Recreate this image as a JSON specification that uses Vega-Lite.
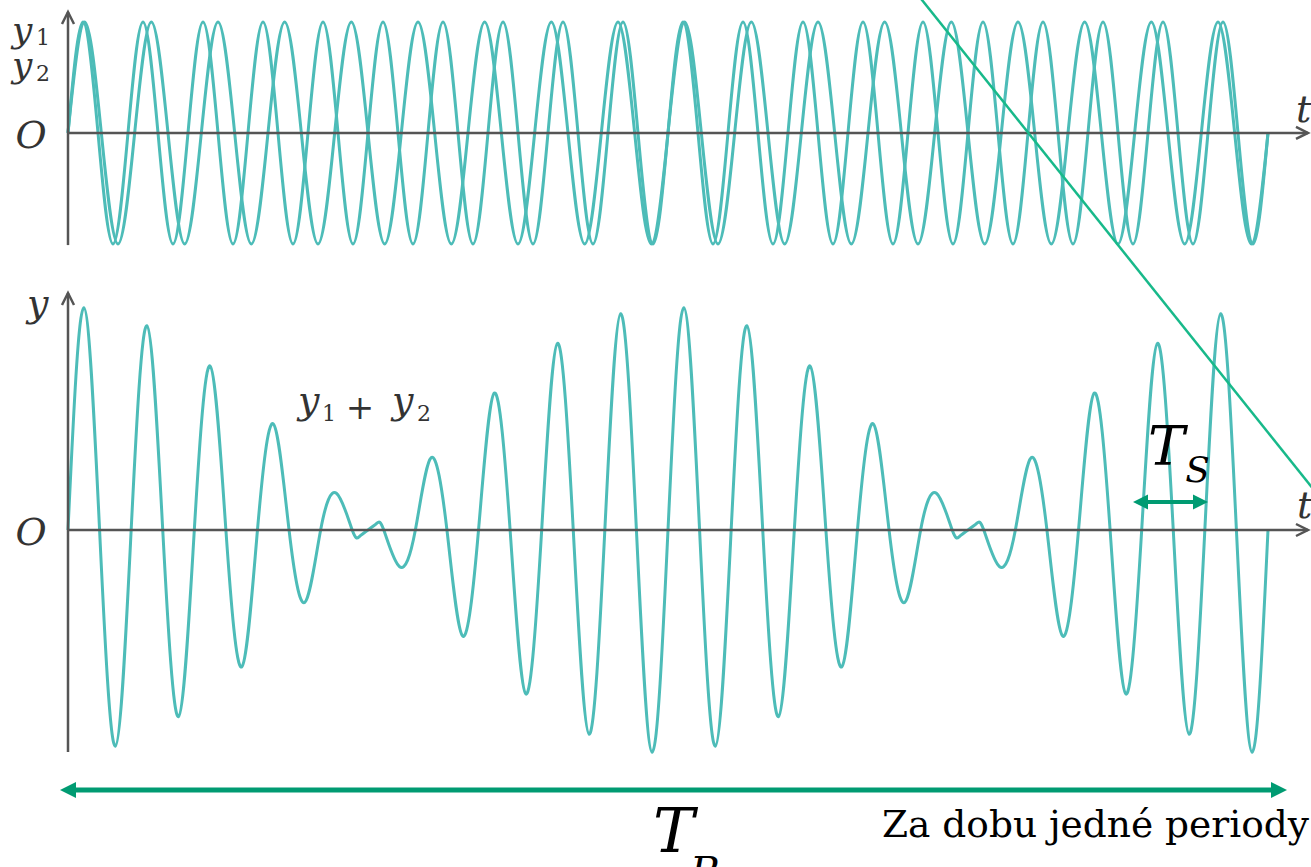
{
  "$schema": "https://vega.github.io/schema/vega-lite/v6.json",
  "width": 1311,
  "height": 867,
  "padding": 0,
  "autosize": {"type": "none"},
  "background": "white",
  "config": {"view": {"stroke": null}, "text": {"font": "DejaVu Serif"}},
  "data": {"values": [{}]},
  "datasets": {
    "waves": [
      {"s": "y1", "t": 0, "v": 0}, {"s": "y1", "t": 2.5, "v": 1}, {"s": "y1", "t": 5, "v": 0}, {"s": "y1", "t": 7.5, "v": -1},
      {"s": "y1", "t": 10, "v": 0}, {"s": "y1", "t": 12.5, "v": 1}, {"s": "y1", "t": 15, "v": 0}, {"s": "y1", "t": 17.5, "v": -1},
      {"s": "y1", "t": 20, "v": 0}, {"s": "y1", "t": 22.5, "v": 1}, {"s": "y1", "t": 25, "v": 0}, {"s": "y1", "t": 27.5, "v": -1},
      {"s": "y1", "t": 30, "v": 0}, {"s": "y1", "t": 32.5, "v": 1}, {"s": "y1", "t": 35, "v": 0}, {"s": "y1", "t": 37.5, "v": -1},
      {"s": "y1", "t": 40, "v": 0}, {"s": "y1", "t": 42.5, "v": 1}, {"s": "y1", "t": 45, "v": 0}, {"s": "y1", "t": 47.5, "v": -1},
      {"s": "y1", "t": 50, "v": 0}, {"s": "y1", "t": 52.5, "v": 1}, {"s": "y1", "t": 55, "v": 0}, {"s": "y1", "t": 57.5, "v": -1},
      {"s": "y1", "t": 60, "v": 0}, {"s": "y1", "t": 62.5, "v": 1}, {"s": "y1", "t": 65, "v": 0}, {"s": "y1", "t": 67.5, "v": -1},
      {"s": "y1", "t": 70, "v": 0}, {"s": "y1", "t": 72.5, "v": 1}, {"s": "y1", "t": 75, "v": 0}, {"s": "y1", "t": 77.5, "v": -1},
      {"s": "y1", "t": 80, "v": 0}, {"s": "y1", "t": 82.5, "v": 1}, {"s": "y1", "t": 85, "v": 0}, {"s": "y1", "t": 87.5, "v": -1},
      {"s": "y1", "t": 90, "v": 0}, {"s": "y1", "t": 92.5, "v": 1}, {"s": "y1", "t": 95, "v": 0}, {"s": "y1", "t": 97.5, "v": -1},
      {"s": "y1", "t": 100, "v": 0}, {"s": "y1", "t": 102.5, "v": 1}, {"s": "y1", "t": 105, "v": 0}, {"s": "y1", "t": 107.5, "v": -1},
      {"s": "y1", "t": 110, "v": 0}, {"s": "y1", "t": 112.5, "v": 1}, {"s": "y1", "t": 115, "v": 0}, {"s": "y1", "t": 117.5, "v": -1},
      {"s": "y1", "t": 120, "v": 0}, {"s": "y1", "t": 122.5, "v": 1}, {"s": "y1", "t": 125, "v": 0}, {"s": "y1", "t": 127.5, "v": -1},
      {"s": "y1", "t": 130, "v": 0}, {"s": "y1", "t": 132.5, "v": 1}, {"s": "y1", "t": 135, "v": 0}, {"s": "y1", "t": 137.5, "v": -1},
      {"s": "y1", "t": 140, "v": 0}, {"s": "y1", "t": 142.5, "v": 1}, {"s": "y1", "t": 145, "v": 0}, {"s": "y1", "t": 147.5, "v": -1},
      {"s": "y1", "t": 150, "v": 0}, {"s": "y1", "t": 152.5, "v": 1}, {"s": "y1", "t": 155, "v": 0}, {"s": "y1", "t": 157.5, "v": -1},
      {"s": "y1", "t": 160, "v": 0}, {"s": "y1", "t": 162.5, "v": 1}, {"s": "y1", "t": 165, "v": 0}, {"s": "y1", "t": 167.5, "v": -1},
      {"s": "y1", "t": 170, "v": 0}, {"s": "y1", "t": 172.5, "v": 1}, {"s": "y1", "t": 175, "v": 0}, {"s": "y1", "t": 177.5, "v": -1},
      {"s": "y1", "t": 180, "v": 0},
      {"s": "y2", "t": 0, "v": 0}, {"s": "y2", "t": 2.25, "v": 1}, {"s": "y2", "t": 4.5, "v": 0}, {"s": "y2", "t": 6.75, "v": -1},
      {"s": "y2", "t": 9, "v": 0}, {"s": "y2", "t": 11.25, "v": 1}, {"s": "y2", "t": 13.5, "v": 0}, {"s": "y2", "t": 15.75, "v": -1},
      {"s": "y2", "t": 18, "v": 0}, {"s": "y2", "t": 20.25, "v": 1}, {"s": "y2", "t": 22.5, "v": 0}, {"s": "y2", "t": 24.75, "v": -1},
      {"s": "y2", "t": 27, "v": 0}, {"s": "y2", "t": 29.25, "v": 1}, {"s": "y2", "t": 31.5, "v": 0}, {"s": "y2", "t": 33.75, "v": -1},
      {"s": "y2", "t": 36, "v": 0}, {"s": "y2", "t": 38.25, "v": 1}, {"s": "y2", "t": 40.5, "v": 0}, {"s": "y2", "t": 42.75, "v": -1},
      {"s": "y2", "t": 45, "v": 0}, {"s": "y2", "t": 47.25, "v": 1}, {"s": "y2", "t": 49.5, "v": 0}, {"s": "y2", "t": 51.75, "v": -1},
      {"s": "y2", "t": 54, "v": 0}, {"s": "y2", "t": 56.25, "v": 1}, {"s": "y2", "t": 58.5, "v": 0}, {"s": "y2", "t": 60.75, "v": -1},
      {"s": "y2", "t": 63, "v": 0}, {"s": "y2", "t": 65.25, "v": 1}, {"s": "y2", "t": 67.5, "v": 0}, {"s": "y2", "t": 69.75, "v": -1},
      {"s": "y2", "t": 72, "v": 0}, {"s": "y2", "t": 74.25, "v": 1}, {"s": "y2", "t": 76.5, "v": 0}, {"s": "y2", "t": 78.75, "v": -1},
      {"s": "y2", "t": 81, "v": 0}, {"s": "y2", "t": 83.25, "v": 1}, {"s": "y2", "t": 85.5, "v": 0}, {"s": "y2", "t": 87.75, "v": -1},
      {"s": "y2", "t": 90, "v": 0}, {"s": "y2", "t": 92.25, "v": 1}, {"s": "y2", "t": 94.5, "v": 0}, {"s": "y2", "t": 96.75, "v": -1},
      {"s": "y2", "t": 99, "v": 0}, {"s": "y2", "t": 101.25, "v": 1}, {"s": "y2", "t": 103.5, "v": 0}, {"s": "y2", "t": 105.75, "v": -1},
      {"s": "y2", "t": 108, "v": 0}, {"s": "y2", "t": 110.25, "v": 1}, {"s": "y2", "t": 112.5, "v": 0}, {"s": "y2", "t": 114.75, "v": -1},
      {"s": "y2", "t": 117, "v": 0}, {"s": "y2", "t": 119.25, "v": 1}, {"s": "y2", "t": 121.5, "v": 0}, {"s": "y2", "t": 123.75, "v": -1},
      {"s": "y2", "t": 126, "v": 0}, {"s": "y2", "t": 128.25, "v": 1}, {"s": "y2", "t": 130.5, "v": 0}, {"s": "y2", "t": 132.75, "v": -1},
      {"s": "y2", "t": 135, "v": 0}, {"s": "y2", "t": 137.25, "v": 1}, {"s": "y2", "t": 139.5, "v": 0}, {"s": "y2", "t": 141.75, "v": -1},
      {"s": "y2", "t": 144, "v": 0}, {"s": "y2", "t": 146.25, "v": 1}, {"s": "y2", "t": 148.5, "v": 0}, {"s": "y2", "t": 150.75, "v": -1},
      {"s": "y2", "t": 153, "v": 0}, {"s": "y2", "t": 155.25, "v": 1}, {"s": "y2", "t": 157.5, "v": 0}, {"s": "y2", "t": 159.75, "v": -1},
      {"s": "y2", "t": 162, "v": 0}, {"s": "y2", "t": 164.25, "v": 1}, {"s": "y2", "t": 166.5, "v": 0}, {"s": "y2", "t": 168.75, "v": -1},
      {"s": "y2", "t": 171, "v": 0}, {"s": "y2", "t": 173.25, "v": 1}, {"s": "y2", "t": 175.5, "v": 0}, {"s": "y2", "t": 177.75, "v": -1},
      {"s": "y2", "t": 180, "v": 0}
    ],
    "sum": [
      {"t": 0, "v": 0}, {"t": 2.368, "v": 1.993}, {"t": 4.737, "v": 0}, {"t": 7.105, "v": -1.939},
      {"t": 9.474, "v": 0}, {"t": 11.842, "v": 1.832}, {"t": 14.211, "v": 0}, {"t": 16.579, "v": -1.674},
      {"t": 18.947, "v": 0}, {"t": 21.316, "v": 1.471}, {"t": 23.684, "v": 0}, {"t": 26.053, "v": -1.228},
      {"t": 28.421, "v": 0}, {"t": 30.789, "v": 0.952}, {"t": 33.158, "v": 0}, {"t": 35.526, "v": -0.649},
      {"t": 37.895, "v": 0}, {"t": 40.263, "v": 0.329}, {"t": 42.632, "v": 0}, {"t": 43.7, "v": -0.059},
      {"t": 45, "v": 0}, {"t": 46.3, "v": 0.059}, {"t": 47.368, "v": 0}, {"t": 49.737, "v": -0.329},
      {"t": 52.105, "v": 0}, {"t": 54.474, "v": 0.649}, {"t": 56.842, "v": 0}, {"t": 59.211, "v": -0.952},
      {"t": 61.579, "v": 0}, {"t": 63.947, "v": 1.228}, {"t": 66.316, "v": 0}, {"t": 68.684, "v": -1.471},
      {"t": 71.053, "v": 0}, {"t": 73.421, "v": 1.674}, {"t": 75.789, "v": 0}, {"t": 78.158, "v": -1.832},
      {"t": 80.526, "v": 0}, {"t": 82.895, "v": 1.939}, {"t": 85.263, "v": 0}, {"t": 87.632, "v": -1.993},
      {"t": 90, "v": 0}, {"t": 92.368, "v": 1.993}, {"t": 94.737, "v": 0}, {"t": 97.105, "v": -1.939},
      {"t": 99.474, "v": 0}, {"t": 101.842, "v": 1.832}, {"t": 104.211, "v": 0}, {"t": 106.579, "v": -1.674},
      {"t": 108.947, "v": 0}, {"t": 111.316, "v": 1.471}, {"t": 113.684, "v": 0}, {"t": 116.053, "v": -1.228},
      {"t": 118.421, "v": 0}, {"t": 120.789, "v": 0.952}, {"t": 123.158, "v": 0}, {"t": 125.526, "v": -0.649},
      {"t": 127.895, "v": 0}, {"t": 130.263, "v": 0.329}, {"t": 132.632, "v": 0}, {"t": 133.7, "v": -0.059},
      {"t": 135, "v": 0}, {"t": 136.3, "v": 0.059}, {"t": 137.368, "v": 0}, {"t": 139.737, "v": -0.329},
      {"t": 142.105, "v": 0}, {"t": 144.474, "v": 0.649}, {"t": 146.842, "v": 0}, {"t": 149.211, "v": -0.952},
      {"t": 151.579, "v": 0}, {"t": 153.947, "v": 1.228}, {"t": 156.316, "v": 0}, {"t": 158.684, "v": -1.471},
      {"t": 161.053, "v": 0}, {"t": 163.421, "v": 1.674}, {"t": 165.789, "v": 0}, {"t": 168.158, "v": -1.832},
      {"t": 170.526, "v": 0}, {"t": 172.895, "v": 1.939}, {"t": 175.263, "v": 0}, {"t": 177.632, "v": -1.993},
      {"t": 180, "v": 0}
    ]
  },
  "layer": [
    {
      "layer": [
        {
          "data": {"name": "waves"},
          "mark": {"type": "line", "interpolate": "natural", "color": "#4dbcb8", "strokeWidth": 3},
          "encoding": {
            "x": {"field": "t", "type": "quantitative", "scale": {"domain": [-10.2, 186.45], "nice": false, "zero": false}, "axis": null},
            "y": {"field": "v", "type": "quantitative", "scale": {"domain": [-6.613, 1.198], "nice": false, "zero": false}, "axis": null},
            "detail": {"field": "s", "type": "nominal"}
          }
        },
        {
          "mark": {"type": "rule", "color": "#555555", "strokeWidth": 2.5},
          "encoding": {
            "x": {"datum": 0, "type": "quantitative", "scale": {"domain": [-10.2, 186.45], "nice": false, "zero": false}},
            "y": {"datum": -1.01, "type": "quantitative", "scale": {"domain": [-6.613, 1.198], "nice": false, "zero": false}},
            "y2": {"datum": 1.09}
          }
        },
        {
          "mark": {"type": "rule", "color": "#555555", "strokeWidth": 2.5},
          "encoding": {
            "x": {"datum": 0, "type": "quantitative", "scale": {"domain": [-10.2, 186.45], "nice": false, "zero": false}},
            "x2": {"datum": 186.0},
            "y": {"datum": 0, "type": "quantitative", "scale": {"domain": [-6.613, 1.198], "nice": false, "zero": false}}
          }
        },
        {
          "mark": {"type": "point", "shape": "M-1,2L0,0L1,2", "size": 144, "filled": false, "color": "#555555", "strokeWidth": 2.5, "opacity": 1},
          "encoding": {
            "x": {"datum": 0, "type": "quantitative", "scale": {"domain": [-10.2, 186.45], "nice": false, "zero": false}},
            "y": {"datum": 1.09, "type": "quantitative", "scale": {"domain": [-6.613, 1.198], "nice": false, "zero": false}}
          }
        },
        {
          "mark": {"type": "point", "shape": "M-2,-1L0,0L-2,1", "size": 144, "filled": false, "color": "#555555", "strokeWidth": 2.5, "opacity": 1},
          "encoding": {
            "x": {"datum": 186.0, "type": "quantitative", "scale": {"domain": [-10.2, 186.45], "nice": false, "zero": false}},
            "y": {"datum": 0, "type": "quantitative", "scale": {"domain": [-6.613, 1.198], "nice": false, "zero": false}}
          }
        },
        {
          "mark": {"type": "text", "text": "y", "fontStyle": "italic", "fontSize": 36, "align": "left", "baseline": "alphabetic", "color": "#333333"},
          "encoding": {
            "x": {"datum": -8.4, "type": "quantitative", "scale": {"domain": [-10.2, 186.45], "nice": false, "zero": false}},
            "y": {"datum": 0.82, "type": "quantitative", "scale": {"domain": [-6.613, 1.198], "nice": false, "zero": false}}
          }
        },
        {
          "mark": {"type": "text", "text": "1", "fontSize": 22, "align": "left", "baseline": "alphabetic", "color": "#333333"},
          "encoding": {
            "x": {"datum": -4.8, "type": "quantitative", "scale": {"domain": [-10.2, 186.45], "nice": false, "zero": false}},
            "y": {"datum": 0.79, "type": "quantitative", "scale": {"domain": [-6.613, 1.198], "nice": false, "zero": false}}
          }
        },
        {
          "mark": {"type": "text", "text": "y", "fontStyle": "italic", "fontSize": 36, "align": "left", "baseline": "alphabetic", "color": "#333333"},
          "encoding": {
            "x": {"datum": -8.4, "type": "quantitative", "scale": {"domain": [-10.2, 186.45], "nice": false, "zero": false}},
            "y": {"datum": 0.505, "type": "quantitative", "scale": {"domain": [-6.613, 1.198], "nice": false, "zero": false}}
          }
        },
        {
          "mark": {"type": "text", "text": "2", "fontSize": 22, "align": "left", "baseline": "alphabetic", "color": "#333333"},
          "encoding": {
            "x": {"datum": -4.8, "type": "quantitative", "scale": {"domain": [-10.2, 186.45], "nice": false, "zero": false}},
            "y": {"datum": 0.47, "type": "quantitative", "scale": {"domain": [-6.613, 1.198], "nice": false, "zero": false}}
          }
        },
        {
          "mark": {"type": "text", "text": "O", "fontStyle": "italic", "fontSize": 38, "align": "center", "baseline": "alphabetic", "color": "#333333"},
          "encoding": {
            "x": {"datum": -5.55, "type": "quantitative", "scale": {"domain": [-10.2, 186.45], "nice": false, "zero": false}},
            "y": {"datum": -0.135, "type": "quantitative", "scale": {"domain": [-6.613, 1.198], "nice": false, "zero": false}}
          }
        },
        {
          "mark": {"type": "text", "text": "t", "fontStyle": "italic", "fontSize": 38, "align": "left", "baseline": "alphabetic", "color": "#333333"},
          "encoding": {
            "x": {"datum": 184.2, "type": "quantitative", "scale": {"domain": [-10.2, 186.45], "nice": false, "zero": false}},
            "y": {"datum": 0.099, "type": "quantitative", "scale": {"domain": [-6.613, 1.198], "nice": false, "zero": false}}
          }
        }
      ]
    },
    {
      "layer": [
        {
          "data": {"name": "sum"},
          "mark": {"type": "line", "interpolate": "natural", "color": "#4dbcb8", "strokeWidth": 3},
          "encoding": {
            "x": {"field": "t", "type": "quantitative", "scale": {"domain": [-10.2, 186.45], "nice": false, "zero": false}, "axis": null},
            "y": {"field": "v", "type": "quantitative", "scale": {"domain": [-3.0224, 4.7534], "nice": false, "zero": false}, "axis": null}
          }
        },
        {
          "mark": {"type": "rule", "color": "#555555", "strokeWidth": 2.5},
          "encoding": {
            "x": {"datum": 0, "type": "quantitative", "scale": {"domain": [-10.2, 186.45], "nice": false, "zero": false}},
            "y": {"datum": -1.991, "type": "quantitative", "scale": {"domain": [-3.0224, 4.7534], "nice": false, "zero": false}},
            "y2": {"datum": 2.126}
          }
        },
        {
          "mark": {"type": "rule", "color": "#555555", "strokeWidth": 2.5},
          "encoding": {
            "x": {"datum": 0, "type": "quantitative", "scale": {"domain": [-10.2, 186.45], "nice": false, "zero": false}},
            "x2": {"datum": 186.0},
            "y": {"datum": 0, "type": "quantitative", "scale": {"domain": [-3.0224, 4.7534], "nice": false, "zero": false}}
          }
        },
        {
          "mark": {"type": "point", "shape": "M-1,2L0,0L1,2", "size": 144, "filled": false, "color": "#555555", "strokeWidth": 2.5, "opacity": 1},
          "encoding": {
            "x": {"datum": 0, "type": "quantitative", "scale": {"domain": [-10.2, 186.45], "nice": false, "zero": false}},
            "y": {"datum": 2.126, "type": "quantitative", "scale": {"domain": [-3.0224, 4.7534], "nice": false, "zero": false}}
          }
        },
        {
          "mark": {"type": "point", "shape": "M-2,-1L0,0L-2,1", "size": 144, "filled": false, "color": "#555555", "strokeWidth": 2.5, "opacity": 1},
          "encoding": {
            "x": {"datum": 186.0, "type": "quantitative", "scale": {"domain": [-10.2, 186.45], "nice": false, "zero": false}},
            "y": {"datum": 0, "type": "quantitative", "scale": {"domain": [-3.0224, 4.7534], "nice": false, "zero": false}}
          }
        },
        {
          "mark": {"type": "text", "text": "y", "fontStyle": "italic", "fontSize": 38, "align": "left", "baseline": "alphabetic", "color": "#333333"},
          "encoding": {
            "x": {"datum": -6.15, "type": "quantitative", "scale": {"domain": [-10.2, 186.45], "nice": false, "zero": false}},
            "y": {"datum": 1.919, "type": "quantitative", "scale": {"domain": [-3.0224, 4.7534], "nice": false, "zero": false}}
          }
        },
        {
          "mark": {"type": "text", "text": "O", "fontStyle": "italic", "fontSize": 38, "align": "center", "baseline": "alphabetic", "color": "#333333"},
          "encoding": {
            "x": {"datum": -5.55, "type": "quantitative", "scale": {"domain": [-10.2, 186.45], "nice": false, "zero": false}},
            "y": {"datum": -0.135, "type": "quantitative", "scale": {"domain": [-3.0224, 4.7534], "nice": false, "zero": false}}
          }
        },
        {
          "mark": {"type": "text", "text": "t", "fontStyle": "italic", "fontSize": 38, "align": "left", "baseline": "alphabetic", "color": "#333333"},
          "encoding": {
            "x": {"datum": 184.35, "type": "quantitative", "scale": {"domain": [-10.2, 186.45], "nice": false, "zero": false}},
            "y": {"datum": 0.108, "type": "quantitative", "scale": {"domain": [-3.0224, 4.7534], "nice": false, "zero": false}}
          }
        },
        {
          "mark": {"type": "text", "text": "y", "fontStyle": "italic", "fontSize": 38, "align": "left", "baseline": "alphabetic", "color": "#333333"},
          "encoding": {
            "x": {"datum": 34.5, "type": "quantitative", "scale": {"domain": [-10.2, 186.45], "nice": false, "zero": false}},
            "y": {"datum": 1.049, "type": "quantitative", "scale": {"domain": [-3.0224, 4.7534], "nice": false, "zero": false}}
          }
        },
        {
          "mark": {"type": "text", "text": "1", "fontSize": 22, "align": "left", "baseline": "alphabetic", "color": "#333333"},
          "encoding": {
            "x": {"datum": 38.1, "type": "quantitative", "scale": {"domain": [-10.2, 186.45], "nice": false, "zero": false}},
            "y": {"datum": 0.978, "type": "quantitative", "scale": {"domain": [-3.0224, 4.7534], "nice": false, "zero": false}}
          }
        },
        {
          "mark": {"type": "text", "text": "+", "fontSize": 34, "align": "center", "baseline": "alphabetic", "color": "#333333"},
          "encoding": {
            "x": {"datum": 43.8, "type": "quantitative", "scale": {"domain": [-10.2, 186.45], "nice": false, "zero": false}},
            "y": {"datum": 0.996, "type": "quantitative", "scale": {"domain": [-3.0224, 4.7534], "nice": false, "zero": false}}
          }
        },
        {
          "mark": {"type": "text", "text": "y", "fontStyle": "italic", "fontSize": 38, "align": "left", "baseline": "alphabetic", "color": "#333333"},
          "encoding": {
            "x": {"datum": 48.6, "type": "quantitative", "scale": {"domain": [-10.2, 186.45], "nice": false, "zero": false}},
            "y": {"datum": 1.049, "type": "quantitative", "scale": {"domain": [-3.0224, 4.7534], "nice": false, "zero": false}}
          }
        },
        {
          "mark": {"type": "text", "text": "2", "fontSize": 22, "align": "left", "baseline": "alphabetic", "color": "#333333"},
          "encoding": {
            "x": {"datum": 52.35, "type": "quantitative", "scale": {"domain": [-10.2, 186.45], "nice": false, "zero": false}},
            "y": {"datum": 0.978, "type": "quantitative", "scale": {"domain": [-3.0224, 4.7534], "nice": false, "zero": false}}
          }
        },
        {
          "mark": {"type": "rule", "color": "#009b72", "strokeWidth": 5},
          "encoding": {
            "x": {"datum": 0.3, "type": "quantitative", "scale": {"domain": [-10.2, 186.45], "nice": false, "zero": false}},
            "x2": {"datum": 181.35},
            "y": {"datum": -2.332, "type": "quantitative", "scale": {"domain": [-3.0224, 4.7534], "nice": false, "zero": false}}
          }
        },
        {
          "mark": {"type": "point", "shape": "M0,0L2,-1L2,1Z", "size": 256, "filled": true, "color": "#009b72", "opacity": 1},
          "encoding": {
            "x": {"datum": -1.2, "type": "quantitative", "scale": {"domain": [-10.2, 186.45], "nice": false, "zero": false}},
            "y": {"datum": -2.332, "type": "quantitative", "scale": {"domain": [-3.0224, 4.7534], "nice": false, "zero": false}}
          }
        },
        {
          "mark": {"type": "point", "shape": "M0,0L-2,-1L-2,1Z", "size": 256, "filled": true, "color": "#009b72", "opacity": 1},
          "encoding": {
            "x": {"datum": 182.85, "type": "quantitative", "scale": {"domain": [-10.2, 186.45], "nice": false, "zero": false}},
            "y": {"datum": -2.332, "type": "quantitative", "scale": {"domain": [-3.0224, 4.7534], "nice": false, "zero": false}}
          }
        },
        {
          "mark": {"type": "rule", "color": "#009b72", "strokeWidth": 4},
          "encoding": {
            "x": {"datum": 160.8, "type": "quantitative", "scale": {"domain": [-10.2, 186.45], "nice": false, "zero": false}},
            "x2": {"datum": 169.95},
            "y": {"datum": 0.251, "type": "quantitative", "scale": {"domain": [-3.0224, 4.7534], "nice": false, "zero": false}}
          }
        },
        {
          "mark": {"type": "point", "shape": "M0,0L2,-1L2,1Z", "size": 225, "filled": true, "color": "#009b72", "opacity": 1},
          "encoding": {
            "x": {"datum": 159.75, "type": "quantitative", "scale": {"domain": [-10.2, 186.45], "nice": false, "zero": false}},
            "y": {"datum": 0.251, "type": "quantitative", "scale": {"domain": [-3.0224, 4.7534], "nice": false, "zero": false}}
          }
        },
        {
          "mark": {"type": "point", "shape": "M0,0L-2,-1L-2,1Z", "size": 225, "filled": true, "color": "#009b72", "opacity": 1},
          "encoding": {
            "x": {"datum": 171.0, "type": "quantitative", "scale": {"domain": [-10.2, 186.45], "nice": false, "zero": false}},
            "y": {"datum": 0.251, "type": "quantitative", "scale": {"domain": [-3.0224, 4.7534], "nice": false, "zero": false}}
          }
        },
        {
          "mark": {"type": "text", "text": "T", "fontStyle": "italic", "fontSize": 55, "align": "left", "baseline": "alphabetic", "color": "#000000"},
          "encoding": {
            "x": {"datum": 162.0, "type": "quantitative", "scale": {"domain": [-10.2, 186.45], "nice": false, "zero": false}},
            "y": {"datum": 0.583, "type": "quantitative", "scale": {"domain": [-3.0224, 4.7534], "nice": false, "zero": false}}
          }
        },
        {
          "mark": {"type": "text", "text": "S", "fontStyle": "italic", "fontSize": 36, "align": "left", "baseline": "alphabetic", "color": "#000000"},
          "encoding": {
            "x": {"datum": 167.6, "type": "quantitative", "scale": {"domain": [-10.2, 186.45], "nice": false, "zero": false}},
            "y": {"datum": 0.43, "type": "quantitative", "scale": {"domain": [-3.0224, 4.7534], "nice": false, "zero": false}}
          }
        },
        {
          "mark": {"type": "text", "text": "T", "fontStyle": "italic", "fontSize": 62, "align": "left", "baseline": "alphabetic", "color": "#000000"},
          "encoding": {
            "x": {"datum": 87.75, "type": "quantitative", "scale": {"domain": [-10.2, 186.45], "nice": false, "zero": false}},
            "y": {"datum": -2.888, "type": "quantitative", "scale": {"domain": [-3.0224, 4.7534], "nice": false, "zero": false}}
          }
        },
        {
          "mark": {"type": "text", "text": "R", "fontStyle": "italic", "fontSize": 40, "align": "left", "baseline": "alphabetic", "color": "#000000"},
          "encoding": {
            "x": {"datum": 93.3, "type": "quantitative", "scale": {"domain": [-10.2, 186.45], "nice": false, "zero": false}},
            "y": {"datum": -3.184, "type": "quantitative", "scale": {"domain": [-3.0224, 4.7534], "nice": false, "zero": false}}
          }
        },
        {
          "mark": {"type": "text", "text": "Za dobu jedné periody", "fontSize": 37.5, "align": "left", "baseline": "alphabetic", "color": "#000000"},
          "encoding": {
            "x": {"datum": 122.1, "type": "quantitative", "scale": {"domain": [-10.2, 186.45], "nice": false, "zero": false}},
            "y": {"datum": -2.753, "type": "quantitative", "scale": {"domain": [-3.0224, 4.7534], "nice": false, "zero": false}}
          }
        },
        {
          "mark": {"type": "rule", "color": "#18b98a", "strokeWidth": 2.5},
          "encoding": {
            "x": {"datum": 126.9, "type": "quantitative", "scale": {"domain": [-10.2, 186.45], "nice": false, "zero": false}},
            "y": {"datum": 4.843, "type": "quantitative", "scale": {"domain": [-3.0224, 4.7534], "nice": false, "zero": false}},
            "x2": {"datum": 188.1},
            "y2": {"datum": 0.269}
          }
        }
      ]
    }
  ],
  "resolve": {"scale": {"y": "independent"}}
}
